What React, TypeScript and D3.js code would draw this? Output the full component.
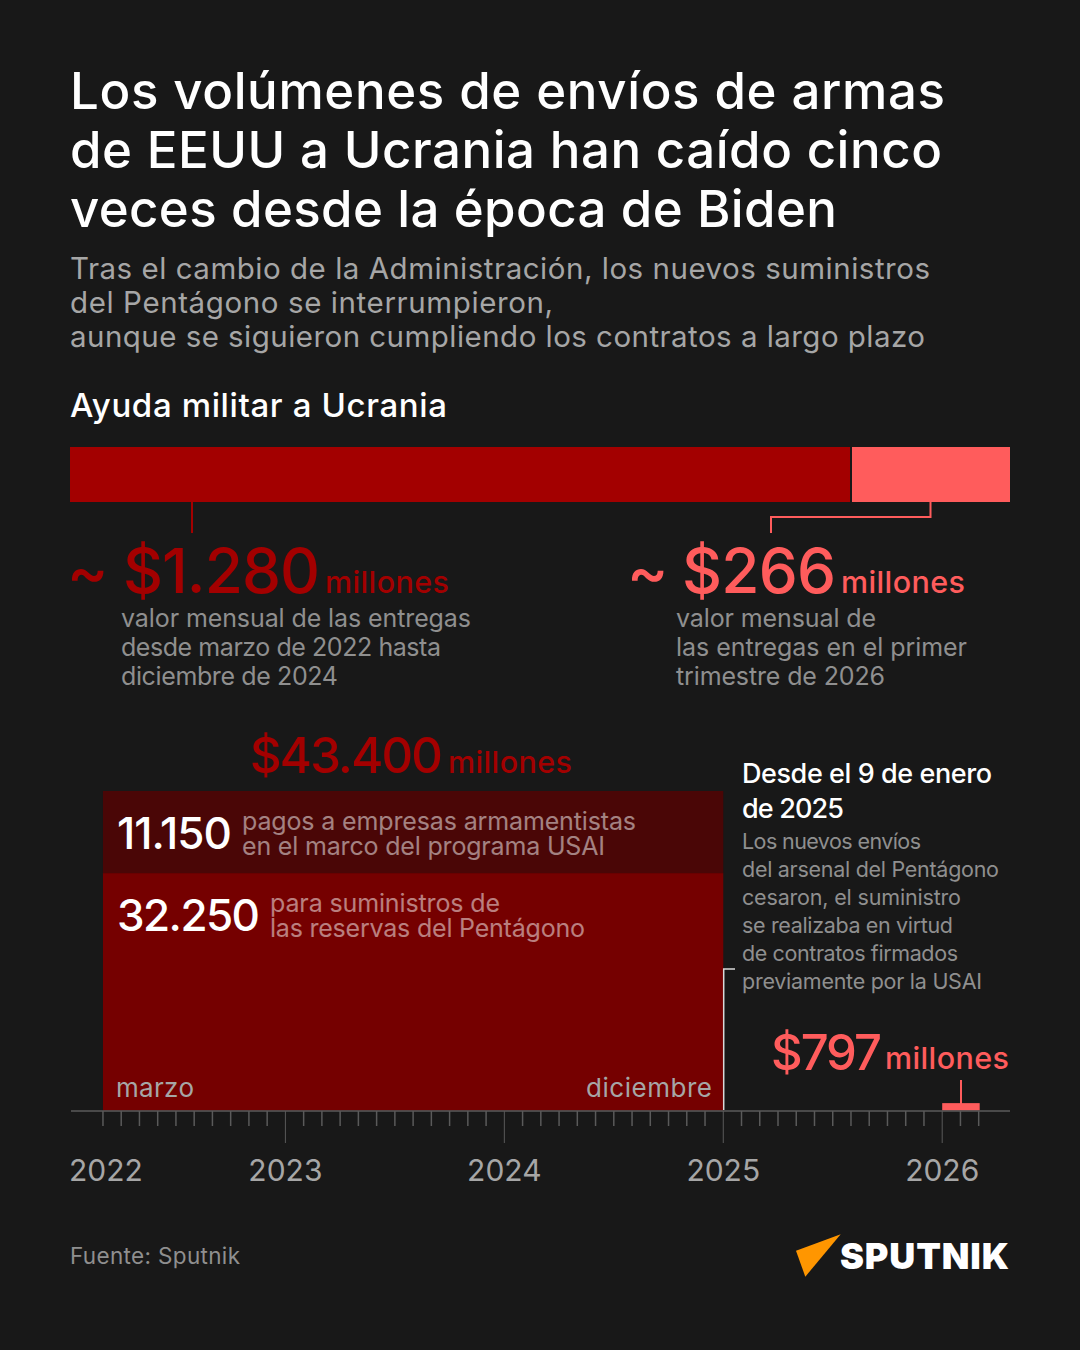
import React from "react";
import * as d3 from "d3";

const BG = "#181818";
const DARK = "#a30000";
const MID = "#750000";
const DEEP = "#4a0606";
const LIGHT = "#ff5c5c";
const GREY = "#8f8f8f";

const titleLines = ["Los volúmenes de envíos de armas", "de EEUU a Ucrania han caído cinco", "veces desde la época de Biden"];
const titleFit = [875, 872, 767];
const subtitleLines = ["Tras el cambio de la Administración, los nuevos suministros", "del Pentágono se interrumpieron,", "aunque se siguieron cumpliendo los contratos a largo plazo"];
const subtitleFit = [860, 483, 855];
const monthlyValues = [1280, 266];
const leftNote = ["valor mensual de las entregas", "desde marzo de 2022 hasta", "diciembre de 2024"];
const leftFit = [350, 320, 217];
const rightNote = ["valor mensual de", "las entregas en el primer", "trimestre de 2026"];
const rightFit = [200, 291, 209];
const usaiValue = 11150;
const stockValue = 32250;
const lateValue = 797;
const years = [2022, 2023, 2024, 2025, 2026];
const sideHead = ["Desde el 9 de enero", "de 2025"];
const sideHeadFit = [250, 102];
const sideBody = ["Los nuevos envíos", "del arsenal del Pentágono", "cesaron, el suministro", "se realizaba en virtud", "de contratos firmados", "previamente por la USAI"];
const sideBodyFit = [179, 257, 219, 211, 216, 240];

const FONT = "Inter, 'Noto Sans', sans-serif";
const es = (v: number) => d3.format(",")(v).replace(",", ".");

function T({ w, children, ...rest }: any) {
  return <text textLength={w} lengthAdjust="spacing" {...rest}>{children}</text>;
}

export default function App() {
  const x = d3.scaleLinear().domain([2023, 2026]).range([285.4, 942.2]);
  const month = (y: number, m: number) => x(y + m / 12);
  const y = d3.scaleLinear().domain([0, usaiValue + stockValue]).range([1110.5, 791]);
  const share = d3.scaleLinear().domain([0, monthlyValues[0], monthlyValues[0] + monthlyValues[1]]).range([70, 851, 1010]);
  const ticks = d3.range(2, 51).map((i) => 2022 + i / 12);
  const x0 = month(2022, 2), x1 = month(2025, 0);
  const big = { fontWeight: 500 };
  const unit = { fontSize: 30.5, fontWeight: 500 };

  return (
    <svg width={1080} height={1350} viewBox="0 0 1080 1350" style={{ position: "absolute", left: 0, top: 0, display: "block" }} fontFamily={FONT}>
      <rect width={1080} height={1350} fill={BG} />
      {titleLines.map((t, i) => (
        <T key={t} x={70} y={108.5 + i * 59} w={titleFit[i]} fontSize={51} fontWeight={500} fill="#fff">{t}</T>
      ))}
      {subtitleLines.map((t, i) => (
        <T key={t} x={70} y={279 + i * 34} w={subtitleFit[i]} fontSize={29.5} fill="#a6a6a6">{t}</T>
      ))}
      <T x={70} y={417} w={377} fontSize={33} fontWeight={500} fill="#fff">Ayuda militar a Ucrania</T>

      <rect x={share(0)} y={447} width={share(monthlyValues[0]) - share(0) - 1} height={55} fill={DARK} />
      <rect x={share(monthlyValues[0]) + 1} y={447} width={share(monthlyValues[0] + monthlyValues[1]) - share(monthlyValues[0]) - 1} height={55} fill={LIGHT} />
      <line x1={192} x2={192} y1={502} y2={533} stroke={DARK} strokeWidth={2} />
      <path d="M930.5 502V517H771V533" fill="none" stroke={LIGHT} strokeWidth={2} />

      <text x={67} y={593} fontSize={62} {...big} fill={DARK}>~</text>
      <T x={123} y={593} w={197} fontSize={62} {...big} fill={DARK}>${es(monthlyValues[0])}</T>
      <T x={325} y={593} w={124} {...unit} fill={DARK}>millones</T>
      {leftNote.map((t, i) => (
        <T key={t} x={121} y={627 + i * 29} w={leftFit[i]} fontSize={25} fill={GREY}>{t}</T>
      ))}

      <text x={627} y={593} fontSize={62} {...big} fill={LIGHT}>~</text>
      <T x={682} y={593} w={154} fontSize={62} {...big} fill={LIGHT}>${monthlyValues[1]}</T>
      <T x={841} y={593} w={124} {...unit} fill={LIGHT}>millones</T>
      {rightNote.map((t, i) => (
        <T key={t} x={676} y={627 + i * 29} w={rightFit[i]} fontSize={25} fill={GREY}>{t}</T>
      ))}

      <T x={250} y={773} w={193} fontSize={49} {...big} fill={DARK}>${es(usaiValue + stockValue)}</T>
      <T x={448} y={773} w={124} {...unit} fill={DARK}>millones</T>

      <rect x={x0} y={y(stockValue)} width={x1 - x0} height={y(0) - y(stockValue)} fill={MID} />
      <rect x={x0} y={y(stockValue + usaiValue)} width={x1 - x0} height={y(stockValue) - y(stockValue + usaiValue)} fill={DEEP} />
      <T x={117} y={849} w={115} fontSize={44} fontWeight={500} fill="#fff">{es(usaiValue)}</T>
      <T x={242} y={830} w={394} fontSize={25} fill="#fff" fillOpacity={0.5}>pagos a empresas armamentistas</T>
      <T x={242} y={855} w={363} fontSize={25} fill="#fff" fillOpacity={0.5}>en el marco del programa USAI</T>
      <T x={117} y={931} w={143} fontSize={44} fontWeight={500} fill="#fff">{es(stockValue)}</T>
      <T x={270} y={912} w={230} fontSize={25} fill="#fff" fillOpacity={0.5}>para suministros de</T>
      <T x={270} y={937} w={315} fontSize={25} fill="#fff" fillOpacity={0.5}>las reservas del Pentágono</T>
      <T x={116} y={1097} w={78} fontSize={26} fill="#a6a6a6">marzo</T>
      <T x={586} y={1097} w={126} fontSize={26} fill="#a6a6a6">diciembre</T>

      {sideHead.map((t, i) => (
        <T key={t} x={742} y={783 + i * 35} w={sideHeadFit[i]} fontSize={27} fontWeight={500} fill="#fff">{t}</T>
      ))}
      {sideBody.map((t, i) => (
        <T key={t} x={742} y={849 + i * 28} w={sideBodyFit[i]} fontSize={21.5} fill={GREY}>{t}</T>
      ))}
      <path d="M735 969H723.7V1110" fill="none" stroke="#d9d9d9" strokeWidth={1.5} />

      <T x={771} y={1070} w={111} fontSize={49} {...big} fill={LIGHT}>${lateValue}</T>
      <T x={885} y={1069} w={124} {...unit} fill={LIGHT}>millones</T>
      <line x1={961} x2={961} y1={1080} y2={1104} stroke={LIGHT} strokeWidth={2} />
      <rect x={month(2026, 0)} y={y(lateValue) - 1.5} width={month(2026, 2) + 1 - month(2026, 0)} height={y(0) - y(lateValue) + 1.5} fill={LIGHT} />

      <line x1={71} x2={1010} y1={1111} y2={1111} stroke="#5a5a5a" strokeWidth={1.5} />
      {ticks.map((t) => {
        const major = Math.abs(t - Math.round(t)) < 1e-6;
        return <line key={t} x1={x(t)} x2={x(t)} y1={1111} y2={major ? 1143 : 1126} stroke="#5a5a5a" strokeWidth={major ? 1 : 1.5} />;
      })}
      {years.map((yr, i) => (
        <text key={yr} x={i === 0 ? 106 : x(yr)} y={1181} fontSize={30} fill="#a6a6a6" textAnchor="middle">{yr}</text>
      ))}

      <T x={70} y={1263.5} w={170} fontSize={22.5} fill={GREY}>Fuente: Sputnik</T>
      <path d="M796 1250.7L840.7 1234.3L805.3 1276.7Z" fill="#ff9600" />
      <T x={840} y={1268.5} w={169} fontSize={36} fontWeight={900} fill="#fff">SPUTNIK</T>
    </svg>
  );
}
